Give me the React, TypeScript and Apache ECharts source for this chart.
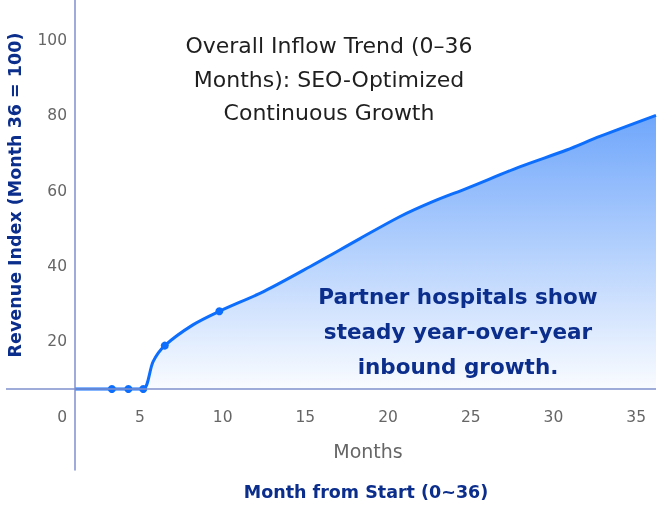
import React, { useEffect, useRef } from "react";
import * as echarts from "echarts";

// Data
const months = [1.1, 3.3, 4.3, 5.2, 5.8, 6.5, 8.2, 9.8, 12.5, 15.3, 18.3, 20.7, 22.7, 24.8, 28.0, 30.8, 32.8, 36.2];
const revenueIndex = [7.4, 7.4, 7.4, 7.4, 14.7, 18.9, 24.4, 28.0, 33.3, 39.9, 47.3, 53.1, 57.1, 60.7, 66.4, 70.8, 74.4, 80.0];
const markerMonths = [3.3, 4.3, 5.2, 6.5, 9.8];
const baselineValue = 7.4;

const titleText = "Overall Inflow Trend (0\u201336\nMonths): SEO-Optimized\nContinuous Growth";
const yAxisTitle = "Revenue Index (Month 36 = 100)";
const xAxisTitle = "Month from Start (0~36)";
const xAxisSubTitle = "Months";
const noteText = "Partner hospitals show\nsteady year-over-year\ninbound growth.";

const FONT = "'DejaVu Sans', 'Open Sans', sans-serif";
const NAVY = "#0b2d8c";
const AXIS = "#7f8fcb";
const LINE = "#0d6efd";

export default function App() {
  const ref = useRef<HTMLDivElement>(null);

  useEffect(() => {
    if (!ref.current) return;
    const chart = echarts.init(ref.current, undefined, { renderer: "svg" });

    const seriesData = months.map((m, i) => {
      const isMarker = markerMonths.indexOf(m) >= 0;
      return {
        value: [m, revenueIndex[i]],
        symbol: isMarker ? "circle" : "none",
        symbolSize: isMarker ? 8 : 0,
      };
    });

    chart.setOption({
      animation: false,
      textStyle: { fontFamily: FONT },
      title: {
        text: titleText,
        left: "center",
        top: 29,
        padding: 0,
        textStyle: {
          fontFamily: FONT,
          fontSize: 22,
          fontWeight: "normal",
          color: "#1f1f1f",
          lineHeight: 33.5,
        },
      },
      grid: {
        left: 6,
        right: 2,
        top: 0,
        bottom: 36,
        containLabel: false,
        outerBoundsMode: "none",
      },
      xAxis: {
        type: "value",
        min: -3.1,
        max: 36.2,
        splitNumber: 8,
        offset: -53,
        axisLine: { show: false, onZero: false },
        axisTick: { show: false },
        splitLine: { show: false },
        axisLabel: {
          margin: 0,
          verticalAlign: "middle",
          fontSize: 15.5,
          color: "#666666",
          fontFamily: FONT,
          showMinLabel: false,
          showMaxLabel: false,
          formatter: (v: number) => (v > 0 && v % 5 === 0 ? String(v) : ""),
        },
      },
      yAxis: {
        type: "value",
        min: -14.1,
        max: 110.6,
        splitNumber: 6,
        offset: -69,
        axisLine: { show: true, onZero: false, lineStyle: { color: AXIS, width: 1.5 } },
        axisTick: { show: false },
        splitLine: { show: false },
        axisLabel: {
          margin: 8,
          fontSize: 15.5,
          color: "#666666",
          fontFamily: FONT,
          showMinLabel: false,
          showMaxLabel: false,
          formatter: (v: number) => (v >= 0 && v % 20 === 0 ? String(v) : ""),
        },
      },
      series: [
        {
          type: "line",
          data: seriesData,
          smooth: 0.3,
          lineStyle: { color: LINE, width: 3 },
          itemStyle: { color: LINE },
          areaStyle: {
            origin: baselineValue,
            opacity: 1,
            color: new echarts.graphic.LinearGradient(0, 0, 0, 1, [
              { offset: 0, color: "#6fa6fb" },
              { offset: 1, color: "#fafcff" },
            ]),
          },
          markLine: {
            silent: true,
            symbol: "none",
            label: { show: false },
            lineStyle: { color: AXIS, width: 1.5, type: "solid" },
            data: [{ yAxis: baselineValue }],
          },
          z: 3,
        },
      ],
      graphic: [
        {
          type: "text",
          x: 15,
          y: 195,
          rotation: Math.PI / 2,
          z: 100,
          style: {
            text: yAxisTitle,
            fontFamily: FONT,
            fontSize: 17.5,
            fontWeight: 600,
            fill: NAVY,
            textAlign: "center",
            textVerticalAlign: "middle",
          },
        },
        {
          type: "text",
          x: 368,
          y: 451,
          z: 100,
          style: {
            text: xAxisSubTitle,
            fontFamily: FONT,
            fontSize: 19,
            fill: "#666666",
            textAlign: "center",
            textVerticalAlign: "middle",
          },
        },
        {
          type: "text",
          x: 366,
          y: 492,
          z: 100,
          style: {
            text: xAxisTitle,
            fontFamily: FONT,
            fontSize: 17.5,
            fontWeight: 600,
            fill: NAVY,
            textAlign: "center",
            textVerticalAlign: "middle",
          },
        },
        {
          type: "text",
          x: 458,
          y: 331,
          z: 100,
          style: {
            text: noteText,
            fontFamily: FONT,
            fontSize: 21.5,
            fontWeight: "bold",
            lineHeight: 35,
            fill: NAVY,
            textAlign: "center",
            textVerticalAlign: "middle",
          },
        },
      ],
    });

    return () => chart.dispose();
  }, []);

  return (
    <div
      ref={ref}
      style={{ position: "fixed", left: 0, top: 0, width: 658, height: 506 }}
    />
  );
}
